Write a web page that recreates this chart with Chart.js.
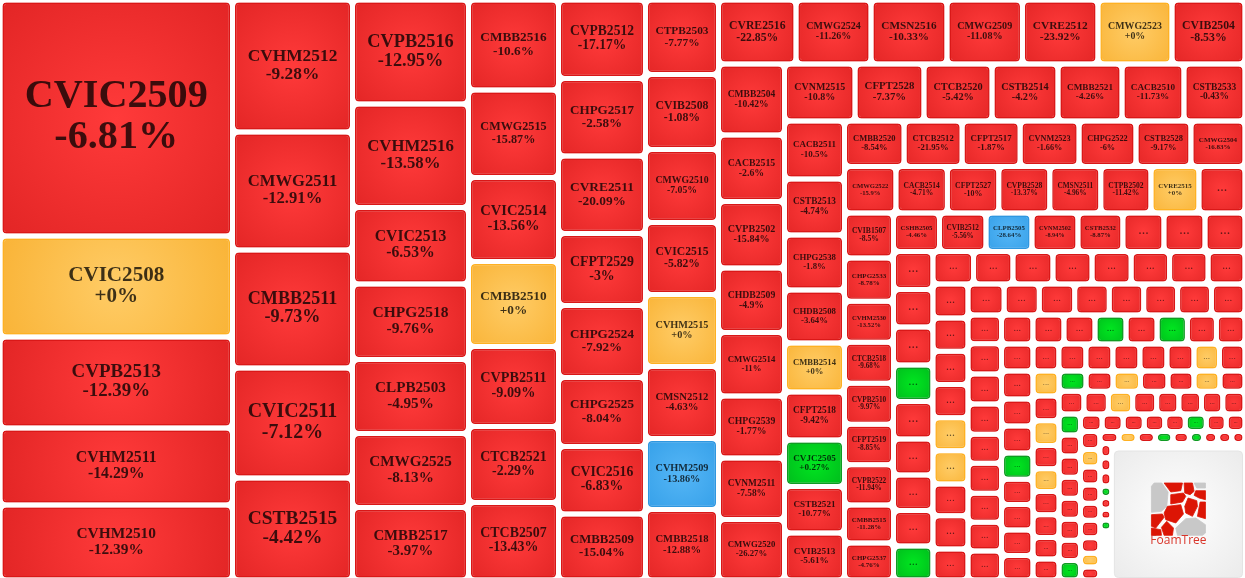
<!DOCTYPE html>
<html>
<head>
<meta charset="utf-8">
<title>FoamTree warrants</title>
<script src="https://cdn.jsdelivr.net/npm/chart.js@4/dist/chart.umd.min.js"></script>
<style>
  html, body { margin: 0; padding: 0; background: #fff; overflow: hidden; }
  canvas { display: block; }
</style>
</head>
<body>
<canvas id="tree" width="1245" height="578"></canvas>
<script>
// ---- Data ----
// cells are listed strip by strip; a strip is peeled off the left (c) or the top (r) of what is left
const stripDirs = ['c','c','c','c','c','c','r','c','r','c','r','r','c','r','c','r','c','r','c','r','c','r','c','r','r','c','r','c','r','c'];

// d down, f flat, u up, b floor, n empty slot
const stripMoves = [
  'dfddd', 'ddddd', 'ddddddd', 'dddfddd', 'dddddddd', 'ddddfdbd',
  'dddddfd', 'dddddddd', 'ddddddd', 'ddddfdudd', 'ddddddd', 'ddddddfd',
  'ddddddddd', 'ddbddddd', 'ddduddddu', 'dddddddd', 'ddddffddd', 'dddddddd',
  'ddddddddd', 'dddududd', 'ddddudddd', 'ddddddfd', 'fdfdfdddd', 'udfddfd',
  'ddfddddd', 'uddddddu', 'dddddudd', 'dfdddddfd', 'dfdududdd', 'ddduddun'
];

// every cell after the end of these two lists has its label folded to "..."
const names = [
  'CVIC2509','CVIC2508','CVPB2513','CVHM2511','CVHM2510',
  'CVHM2512','CMWG2511','CMBB2511','CVIC2511','CSTB2515',
  'CVPB2516','CVHM2516','CVIC2513','CHPG2518','CLPB2503','CMWG2525','CMBB2517',
  'CMBB2516','CMWG2515','CVIC2514','CMBB2510','CVPB2511','CTCB2521','CTCB2507',
  'CVPB2512','CHPG2517','CVRE2511','CFPT2529','CHPG2524','CHPG2525','CVIC2516','CMBB2509',
  'CTPB2503','CVIB2508','CMWG2510','CVIC2515','CVHM2515','CMSN2512','CVHM2509','CMBB2518',
  'CVRE2516','CMWG2524','CMSN2516','CMWG2509','CVRE2512','CMWG2523','CVIB2504',
  'CMBB2504','CACB2515','CVPB2502','CHDB2509','CMWG2514','CHPG2539','CVNM2511','CMWG2520',
  'CVNM2515','CFPT2528','CTCB2520','CSTB2514','CMBB2521','CACB2510','CSTB2533',
  'CACB2511','CSTB2513','CHPG2538','CHDB2508','CMBB2514','CFPT2518','CVJC2505','CSTB2521','CVIB2513',
  'CMBB2520','CTCB2512','CFPT2517','CVNM2523','CHPG2522','CSTB2528','CMWG2504',
  'CMWG2522','CACB2514','CFPT2527','CVPB2528','CMSN2511','CTPB2502','CVRE2515',null,
  'CVIB1507','CHPG2533','CVHM2530','CTCB2518','CVPB2510','CFPT2519','CVPB2522','CMBB2515','CHPG2537',
  'CSHB2505','CVIB2512','CLPB2505','CVNM2502','CSTB2532'
];
const changes = [
  -6.81,0,-12.39,-14.29,-12.39,
  -9.28,-12.91,-9.73,-7.12,-4.42,
  -12.95,-13.58,-6.53,-9.76,-4.95,-8.13,-3.97,
  -10.6,-15.87,-13.56,0,-9.09,-2.29,-13.43,
  -17.17,-2.58,-20.09,-3,-7.92,-8.04,-6.83,-15.04,
  -7.77,-1.08,-7.05,-5.82,0,-4.63,-13.86,-12.88,
  -22.85,-11.26,-10.33,-11.08,-23.92,0,-8.53,
  -10.42,-2.6,-15.84,-4.9,-11,-1.77,-7.58,-26.27,
  -10.8,-7.37,-5.42,-4.2,-4.26,-11.73,-0.43,
  -10.5,-4.74,-1.8,-3.64,0,-9.42,0.27,-10.77,-5.61,
  -8.54,-21.95,-1.87,-1.66,-6,-9.17,-16.83,
  -15.9,-4.71,-10,-13.37,-4.96,-11.42,0,null,
  -8.5,-8.78,-13.52,-9.68,-9.97,-8.85,-11.94,-11.28,-4.76,
  -4.46,-5.56,-28.64,-8.94,-8.87
];

// tile weights, one line per strip
const weights = [
  548.7,234.8,211.6,179.0,174.4,
  158.4,141.6,141.6,132.0,122.4,
  120.6,120.1,88.7,87.6,85.8,85.8,84.1,
  81.0,78.8,75.6,76.5,72.0,68.4,69.8,
  68.3,67.4,67.4,62.6,62.6,60.0,58.7,57.4,
  54.4,54.8,53.3,52.6,52.6,52.6,51.8,51.5,
  49.6,48.0,48.6,48.3,48.3,47.4,46.7,
  46.9,43.9,43.9,42.6,41.9,40.9,40.6,39.9,
  40.2,39.3,38.8,37.6,36.5,35.3,34.8,
  34.8,33.6,33.0,31.8,29.4,28.8,27.9,27.9,28.2,
  27.1,26.4,26.4,26.8,25.9,25.0,24.6,
  23.9,23.9,23.9,23.7,23.7,23.3,22.3,21.4,
  22.1,21.1,20.1,20.1,20.1,19.8,19.8,18.6,18.1,
  17.7,17.9,17.7,17.7,17.3,15.8,15.8,15.4,
  15.0,14.8,15.0,14.4,14.8,14.2,14.0,14.0,13.4,
  13.2,12.8,13.0,12.7,12.7,12.5,12.5,12.0,
  11.9,11.7,11.7,11.6,11.6,11.6,11.2,11.6,10.9,
  11.2,10.9,11.0,10.7,10.7,10.5,10.5,10.4,
  9.7,10.1,10.1,10.1,9.7,10.1,9.7,9.7,9.7,
  9.1,9.0,9.0,9.0,9.0,8.8,8.4,8.3,
  8.5,8.8,8.5,8.5,8.2,8.0,8.0,8.0,7.7,
  7.0,7.3,7.3,7.3,7.3,7.3,6.9,6.9,
  6.5,6.5,6.4,6.1,5.9,6.1,5.9,5.6,5.5,
  5.5,5.5,5.6,5.6,5.3,5.3,5.1,
  5.6,5.5,5.5,5.4,5.0,5.1,4.8,5.0,
  4.5,4.5,4.6,4.5,4.5,4.5,4.3,4.2,
  3.8,3.7,3.7,3.6,3.6,3.7,3.5,3.3,
  3.5,3.4,3.5,3.5,3.3,3.4,3.0,2.7,2.5,
  2.3,2.2,2.2,2.1,2.0,1.7,1.7,1.7,1.6,
  1.7,1.7,1.7,1.4,1.4,1.3,1.3,5.9
];

// ---- Look ----
const TREE_W = 1245, TREE_H = 580, VIEW_H = 578;
const UNIT = 100;   // tree area per unit of weight
const GAP = 2.5;
const LABEL_FONT = '"Liberation Serif", "Times New Roman", serif';
const LOOK = {
  d: { mid: '#ff3a3a', edge: '#e22525', line: '#d81414', halo: 'rgba(225,40,40,0.55)' },
  f: { mid: '#ffcc66', edge: '#f9b336', line: '#ffb020', halo: 'rgba(250,180,50,0.5)' },
  u: { mid: '#00e620', edge: '#00b81c', line: '#0f9a22', halo: 'rgba(20,160,40,0.5)' },
  b: { mid: '#55b6f6', edge: '#349fe8', line: '#2f97e0', halo: 'rgba(50,150,225,0.5)' }
};
// grey and red plates of the corner logo, on a 162 x 157 grid
const LOGO_GREY = [
  [[0,10],[8,0],[31,0],[50,27],[46,70],[30,85],[0,88]],
  [[128,0],[162,0],[162,15],[136,15]],
  [[78,157],[73,135],[103,107],[133,105],[162,125],[162,150],[153,157]]
];
const LOGO_RED = [
  [[38,0],[93,0],[88,23],[58,27]],
  [[98,0],[123,0],[128,25],[116,35],[100,30]],
  [[58,35],[96,30],[103,40],[93,57],[58,63]],
  [[133,23],[162,23],[162,50],[143,45],[128,37]],
  [[110,45],[136,53],[138,70],[123,100],[103,90],[100,70]],
  [[162,57],[146,57],[138,100],[162,107]],
  [[48,70],[88,65],[96,93],[73,120],[43,110],[38,90]],
  [[0,95],[33,93],[38,103],[13,135],[0,130]],
  [[0,135],[28,140],[30,157],[0,157]],
  [[46,115],[66,135],[63,157],[38,157],[30,133]]
];

// ---- Layout: peel strips until only the logo corner is left ----
function layoutCells() {
  const cells = [];
  let rx = 0, ry = 0, rw = TREE_W, rh = TREE_H, at = 0;
  stripMoves.forEach((moves, s) => {
    const part = weights.slice(at, at + moves.length);
    const sum = part.reduce((a, b) => a + b, 0);
    const isCol = stripDirs[s] === 'c';
    const thick = sum * UNIT / (isCol ? rh : rw);
    let run = isCol ? ry : rx;
    part.forEach((w, i) => {
      const len = w * UNIT / thick;
      const idx = at + i;
      if (moves[i] !== 'n') {
        cells.push({
          x0: isCol ? rx : run, x1: isCol ? rx + thick : run + len,
          y0: isCol ? run : ry, y1: isCol ? run + len : ry + thick,
          name: names[idx] || null, change: changes[idx] === undefined ? null : changes[idx],
          move: moves[i], weight: w
        });
      }
      run += len;
    });
    if (isCol) { rx += thick; rw -= thick; } else { ry += thick; rh -= thick; }
    at += moves.length;
  });
  return { cells, rest: { x: rx, y: ry, w: rw, h: rh } };
}
const tree = layoutCells();

// ---- Bar controller whose bars take their width from the cell ----
class CellController extends Chart.BarController {
  _calculateBarIndexPixels(index) {
    const cell = this.getDataset().cells[index];
    const xs = this._cachedMeta.iScale;
    const left = xs.getPixelForValue(cell.x0 + GAP);
    const right = xs.getPixelForValue(cell.x1 - GAP);
    return { base: left, head: right, center: (left + right) / 2, size: right - left };
  }
  draw() {
    const ctx = this._ctx;
    const rects = this._cachedMeta.data;
    const cells = this.getDataset().cells;
    rects.forEach((rect, i) => {
      ctx.save();
      ctx.shadowColor = LOOK[cells[i].move].halo;
      ctx.shadowBlur = 3;
      rect.draw(ctx);
      ctx.restore();
    });
  }
}
CellController.id = 'cells';
CellController.defaults = Chart.BarController.defaults;
CellController.overrides = Chart.BarController.overrides;
Chart.register(CellController);

function cellGradient(context) {
  const cell = context.dataset.cells[context.dataIndex];
  if (!cell) return LOOK.d.mid;
  const { x, y } = context.chart.scales;
  const cx = x.getPixelForValue((cell.x0 + cell.x1) / 2);
  const cy = y.getPixelForValue((cell.y0 + cell.y1) / 2);
  // the scales have no pixels yet on the first pass through the options
  if (!Number.isFinite(cx) || !Number.isFinite(cy)) return LOOK[cell.move].mid;
  const rad = Math.hypot(cell.x1 - cell.x0, cell.y1 - cell.y0) / 2;
  const g = context.chart.ctx.createRadialGradient(cx, cy, 0, cx, cy, rad);
  g.addColorStop(0, LOOK[cell.move].mid);
  g.addColorStop(1, LOOK[cell.move].edge);
  return g;
}

function changeText(v) {
  return (v >= 0 ? '+' : '') + v + '%';
}

// ---- Labels: fit to the tile ----
const labelPlugin = {
  id: 'cellLabels',
  afterDatasetsDraw(chart) {
    const ctx = chart.ctx;
    const meta = chart.getDatasetMeta(0);
    const cells = chart.data.datasets[0].cells;
    ctx.save();
    ctx.textAlign = 'center';
    ctx.textBaseline = 'middle';
    meta.data.forEach((rect, i) => {
      const cell = cells[i];
      const w = rect.width;
      const h = Math.abs(rect.y - rect.base);
      const cx = rect.x;
      const cy = (rect.y + rect.base) / 2;
      if (cell.name) {
        const pct = changeText(cell.change);
        ctx.font = 'bold 100px ' + LABEL_FONT;
        const em = Math.max(ctx.measureText(cell.name).width, ctx.measureText(pct).width) / 100;
        const size = Math.min(0.22 * h, (w > 200 ? 0.805 : 0.78) * w / em);
        ctx.font = 'bold ' + size.toFixed(2) + 'px ' + LABEL_FONT;
        ctx.fillStyle = 'rgba(0,0,0,0.76)';
        ctx.fillText(cell.name, cx, cy - size * 0.54);
        ctx.fillText(pct, cx, cy + size * 0.48);
      } else if (h >= 12) {
        const size = 0.42 * h;
        ctx.font = 'normal ' + Math.min(size, 14).toFixed(2) + 'px ' + LABEL_FONT;
        ctx.fillStyle = 'rgba(0,0,0,0.6)';
        ctx.fillText('...', cx, cy - size * 0.12);
      }
    });
    ctx.restore();
  }
};

// ---- Logo tile in what the strips left over ----
const logoPlugin = {
  id: 'foamLogo',
  afterDatasetsDraw(chart) {
    const ctx = chart.ctx;
    const { x, y } = chart.scales;
    const left = x.getPixelForValue(tree.rest.x + GAP);
    const right = x.getPixelForValue(tree.rest.x + tree.rest.w - GAP);
    const top = y.getPixelForValue(tree.rest.y + 7.5);
    const bottom = y.getPixelForValue(tree.rest.y + tree.rest.h - GAP);
    const cx = (left + right) / 2, cy = (top + bottom) / 2;
    ctx.save();
    const g = ctx.createRadialGradient(cx, cy, 0, cx, cy, (right - left) * 0.7);
    g.addColorStop(0, '#ffffff');
    g.addColorStop(1, '#ebebeb');
    ctx.beginPath();
    ctx.roundRect(left, top, right - left, bottom - top, 4);
    ctx.fillStyle = g;
    ctx.fill();
    ctx.strokeStyle = '#e4e4e4';
    ctx.lineWidth = 1;
    ctx.stroke();

    const ox = cx - 27, oy = top + 32, k = 1 / 3;
    const plate = (pts, color) => {
      ctx.beginPath();
      pts.forEach((p, i) => {
        if (i === 0) ctx.moveTo(ox + p[0] * k, oy + p[1] * k);
        else ctx.lineTo(ox + p[0] * k, oy + p[1] * k);
      });
      ctx.closePath();
      ctx.fillStyle = color;
      ctx.strokeStyle = color;
      ctx.lineWidth = 0.8;
      ctx.lineJoin = 'round';
      ctx.fill();
      ctx.stroke();
    };
    LOGO_GREY.forEach(p => plate(p, '#c8c8c8'));
    LOGO_RED.forEach(p => plate(p, '#dc1505'));

    ctx.font = '12px "Open Sans", "Liberation Sans", sans-serif';
    ctx.fillStyle = '#d9352a';
    ctx.textAlign = 'center';
    ctx.textBaseline = 'middle';
    ctx.fillText('FoamTree', cx, oy + 58);
    ctx.restore();
  }
};

new Chart(document.getElementById('tree'), {
  type: 'cells',
  data: {
    datasets: [{
      cells: tree.cells,
      data: tree.cells.map(c => ({ x: (c.x0 + c.x1) / 2, y: [c.y0 + GAP, c.y1 - GAP] })),
      backgroundColor: cellGradient,
      borderColor: ctx => {
        const cell = ctx.dataset.cells[ctx.dataIndex];
        return cell ? LOOK[cell.move].line : LOOK.d.line;
      },
      borderWidth: 1.5,
      borderRadius: 4,
      borderSkipped: false
    }]
  },
  options: {
    responsive: false,
    animation: false,
    layout: { padding: 0 },
    plugins: {
      legend: { display: false },
      tooltip: {
        callbacks: {
          title: items => items[0].dataset.cells[items[0].dataIndex].name || '...',
          label: item => {
            const cell = item.dataset.cells[item.dataIndex];
            return cell.change === null ? '...' : changeText(cell.change);
          }
        }
      }
    },
    scales: {
      x: { type: 'linear', display: false, min: 0, max: TREE_W, offset: false },
      y: { type: 'linear', display: false, min: 0, max: VIEW_H, reverse: true }
    }
  },
  plugins: [labelPlugin, logoPlugin]
});
</script>
</body>
</html>
